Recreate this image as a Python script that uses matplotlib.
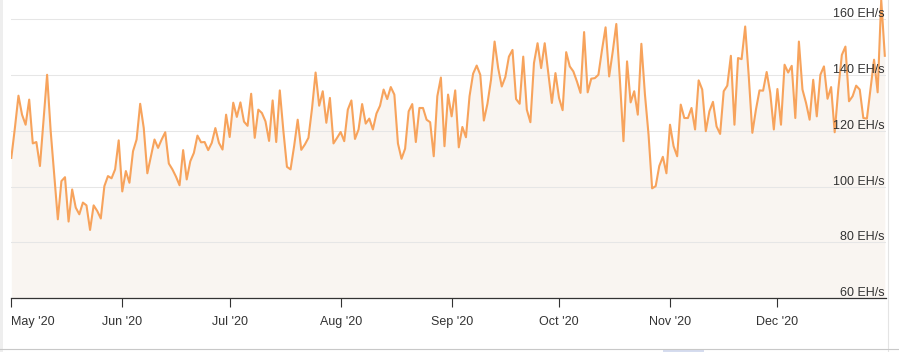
import numpy as np
import pandas as pd
import matplotlib
matplotlib.use("Agg")
import matplotlib.pyplot as plt
import matplotlib.dates as mdates
from matplotlib.patches import Rectangle
from matplotlib.lines import Line2D

plt.rcParams['font.family'] = ['Liberation Sans', 'DejaVu Sans']

# daily hashrate (EH/s)
may_vals = [110.3, 121, 132.6, 125.8, 122.2, 131.2, 115.5, 116, 107.4, 123.8,
            140.1, 119.9, 104, 88.3, 102, 103.4, 87.5, 99, 92.5, 90.1,
            94.3, 93.3, 84.5, 93.3, 91.3, 88.6, 100.2, 103.8, 103, 106.2, 116.6]
jun_vals = [98.3, 105.6, 101.4, 112.7, 116.9, 129.7, 121, 104.8, 110.9, 116.9,
            113.9, 116.9, 119.5, 108.3, 106.2, 103.6, 100.5, 113.1, 102.6, 109.1,
            112.1, 118.3, 115.9, 116, 113.1, 115.7, 121, 115.7, 113.3, 125.8]
jul_vals = [117.8, 130.1, 125, 130.2, 123.3, 121.8, 133.3, 117.5, 127.6, 126.4,
            123.4, 116.4, 130.9, 116, 134.5, 120, 107.1, 106.2, 114.5, 124,
            113.2, 115.1, 117.5, 128, 140.9, 129, 134.2, 122.9, 131.8, 115.5, 117.5]
aug_vals = [119.6, 116.3, 127.6, 130.9, 117.1, 120.5, 129.6, 122.6, 124.4, 120.5,
            126.2, 129, 134.8, 131.4, 135.7, 133, 115.5, 110, 113.6, 127,
            129.6, 116, 128.2, 128.2, 124, 123.1, 110.9, 132.4, 139.1, 114.5, 133]
sep_vals = [125.2, 134.5, 114.1, 121.4, 117.7, 132.4, 140.5, 143.4, 140.1, 123.7,
            129.7, 138.3, 152, 142.5, 135.9, 139.3, 146.6, 149, 131.4, 129.7,
            146.6, 127.6, 123.1, 144.3, 151.4, 142.5, 151.4, 140.7, 130, 140.7]
oct_vals = [131.8, 127.4, 148.2, 143.1, 141.3, 137.7, 133.6, 155.4, 133.8, 138.7,
            138.9, 140.1, 149, 157.1, 139.5, 148.4, 158.3, 138.3, 116.3, 144.9,
            130.2, 134.2, 125.8, 151.2, 133, 118.7, 99.4, 100.2, 107.4, 110.7, 104.8]
nov_vals = [122.2, 114.5, 110.9, 129.4, 124.6, 124.6, 128.2, 120.5, 138.1, 134.8,
            119.9, 127, 130.4, 121.6, 118.9, 134.2, 136.2, 146.9, 122.2, 146.1,
            145.7, 157.4, 139.5, 119.3, 127.6, 134.5, 134.4, 141.1, 133.6, 120.5]
dec_vals = [135, 122.2, 143.7, 140.9, 143.3, 124.6, 152, 134.8, 130, 124,
            138.3, 125.2, 140.1, 143.1, 131.5, 135.7, 119.5, 134.8, 147.2, 150.2,
            130.6, 132.4, 136.2, 134.8, 124.6, 124.4, 134.8, 145.5, 133.8, 167, 146.9]

start_date = '2020-05-01'
end_date = '2020-12-31'
y_ticks = [60, 80, 100, 120, 140, 160]

values = np.array(may_vals + jun_vals + jul_vals + aug_vals +
                  sep_vals + oct_vals + nov_vals + dec_vals)
dates = pd.date_range(start_date, end_date, freq='D')

W, H = 899, 352
fig = plt.figure(figsize=(W / 100, H / 100), dpi=100)
ax_l, ax_r, ax_t, ax_b = 11.3, 886, 0, 298.3
ax = fig.add_axes([ax_l / W, (H - ax_b) / H, (ax_r - ax_l) / W, (ax_b - ax_t) / H])

line_color = '#f7a35c'
ax.fill_between(dates, values, 60, color='#f9f5f1', lw=0, zorder=1)
ax.plot(dates, values, color=line_color, lw=1.5, zorder=3, solid_joinstyle='round')

ax.set_ylim(60, 160 + 19.3 / 2.8)
ax.set_xlim(dates[0], dates[-1] + pd.Timedelta(hours=8))

# grid + right-side labels
ax.set_yticks(y_ticks)
ax.yaxis.grid(True, color='#e6e6e6', lw=0.75, zorder=0)
ax.tick_params(axis='y', length=0, labelleft=False)
for v in y_ticks:
    ax.annotate(f'{v} EH/s', xy=(1, v), xycoords=('axes fraction', 'data'),
                xytext=(-1, 1.5), textcoords='offset points',
                ha='right', va='baseline', fontsize=9, color='#333333', zorder=5)

# x axis
ax.xaxis.set_major_locator(mdates.MonthLocator())
ax.xaxis.set_major_formatter(mdates.DateFormatter("%b '%y"))
ax.tick_params(axis='x', direction='out', length=6.5, width=0.8, color='#333333',
               labelsize=9, labelcolor='#333333', pad=6)
for lbl in ax.get_xticklabels()[:1]:
    lbl.set_ha('left')

for s in ['top', 'right', 'left']:
    ax.spines[s].set_visible(False)
ax.spines['bottom'].set_color('#333333')
ax.spines['bottom'].set_linewidth(0.9)

# navigator / frame leftovers at the edges of the screenshot
fig.add_artist(Rectangle((0, 0), 3 / W, 1, transform=fig.transFigure,
                         color='#eeeeee', lw=0))
fig.add_artist(Line2D([887.5 / W, 887.5 / W], [0, 1], transform=fig.transFigure,
                      color='#e4e4e4', lw=0.8))
fig.add_artist(Line2D([0, 1], [(H - 349) / H] * 2, transform=fig.transFigure,
                      color='#c8c8c8', lw=0.8))
fig.add_artist(Rectangle((663 / W, 0), 41 / W, 3 / H, transform=fig.transFigure,
                         color='#d5dcef', lw=0))

fig.savefig('out.png', dpi=100)
